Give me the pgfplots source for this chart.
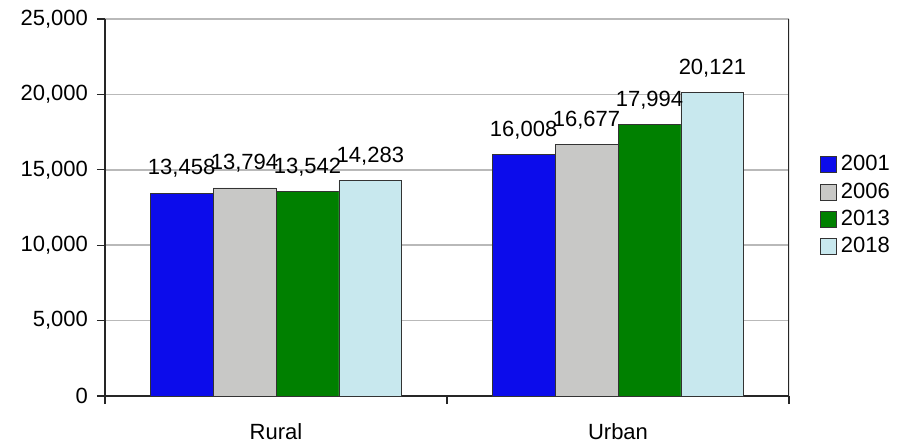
\documentclass[border=0pt]{standalone}
\usepackage{fontspec}
\setmainfont{Liberation Sans}
\usepackage{pgfplots}
\pgfplotsset{compat=1.18}

\definecolor{c2001}{RGB}{12,12,235}
\definecolor{c2006}{RGB}{200,200,198}
\definecolor{c2013}{RGB}{0,128,0}
\definecolor{c2018}{RGB}{200,232,238}
\definecolor{gridgray}{RGB}{185,185,185}

\newcommand{\chartfont}{\fontsize{11pt}{13pt}\selectfont}

\begin{document}
\begin{tikzpicture}
\useasboundingbox (-52.5pt,-24.5pt) rectangle (397.5pt,198pt);
\begin{axis}[
  at={(0,0)}, anchor=south west,
  scale only axis, width=342pt, height=188.5pt,
  xmin=-0.5, xmax=1.5, ymin=0, ymax=25000,
  axis x line*=bottom, axis y line*=left,
  axis line style={-, black!85, line width=0.6pt},
  ybar=0pt, bar width=0.184,
  xtick={-0.5,0.5,1.5}, x tick label as interval,
  xticklabels={Rural,Urban},
  ytick={0,5000,10000,15000,20000,25000},
  ymajorgrids, grid style={gridgray, line width=0.8pt},
  tick align=outside, major tick length=4pt,
  tick style={black!85, line width=0.6pt},
  /pgf/number format/.cd, 1000 sep={,}, assume math mode=true,
  /pgfplots/.cd,
  scaled y ticks=false,
  ticklabel style={font=\chartfont},
  yticklabel style={xshift=-1pt},
  xticklabel style={yshift=-6pt},
  nodes near coords,
  every node near coord/.append style={font=\chartfont, anchor=south, inner sep=0pt, yshift=7.5pt},
  legend style={draw=none, fill=none, at={(1.045,0.505)}, anchor=west, font=\chartfont,
    row sep=0.5pt, inner sep=0pt},
  legend cell align=left,
  legend image code/.code={\draw[#1, draw=black!80] (0pt,-4pt) rectangle (8pt,4pt);},
]
\addplot[fill=c2001, draw=black!80] coordinates {(0,13458) (1,16008)};
\addplot[fill=c2006, draw=black!80] coordinates {(0,13794) (1,16677)};
\addplot[fill=c2013, draw=black!80] coordinates {(0,13542) (1,17994)};
\addplot[fill=c2018, draw=black!80] coordinates {(0,14283) (1,20121)};
\legend{2001,2006,2013,2018}
\draw[black!85, line width=0.6pt] (rel axis cs:1,0) -- (rel axis cs:1,1);
\end{axis}
\end{tikzpicture}
\end{document}
